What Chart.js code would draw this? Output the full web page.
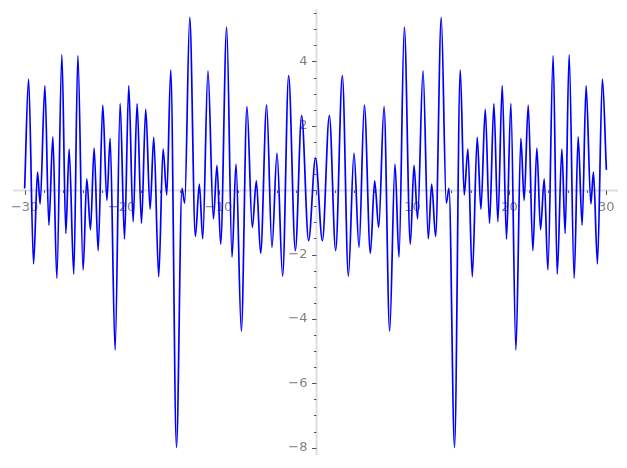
<!DOCTYPE html>
<html>
<head>
<meta charset="utf-8">
<title>plot</title>
<script src="https://cdn.jsdelivr.net/npm/chart.js@4.4.1/dist/chart.umd.min.js"></script>
<style>
  html, body { margin: 0; padding: 0; background: #fff; }
  canvas { display: block; }
</style>
</head>
<body>
<canvas id="plot" width="627" height="468"></canvas>
<script>
// --- DATA (local extrema) ---
const xValues = [
  -30.00, -29.59, -29.08, -28.67, -28.40, -27.91, -27.50, -27.09, -26.68, -26.16,
  -25.75, -25.41, -24.93, -24.51, -23.97, -23.59, -23.21, -22.83, -22.42, -21.94,
  -21.52, -21.18, -20.67, -20.15, -19.70, -19.26, -18.81, -18.40, -17.95, -17.51,
  -17.06, -16.68, -16.17, -15.72, -15.34, -14.93, -14.34, -13.77, -13.49, -12.97,
  -12.39, -11.98, -11.63, -11.09, -10.53, -10.16, -9.78, -9.16, -8.61, -8.20,
  -7.65, -7.07, -6.52, -6.10, -5.66, -5.04, -4.49, -3.97, -3.39, -2.77,
  -2.08, -1.43, -0.71, 0.00,
  0.71, 1.43, 2.08, 2.77, 3.39, 3.97, 4.49, 5.04, 5.66, 6.10,
  6.52, 7.07, 7.65, 8.20, 8.61, 9.16, 9.78, 10.16, 10.53, 11.09,
  11.63, 11.98, 12.39, 12.97, 13.49, 13.77, 14.34, 14.93, 15.34, 15.72,
  16.17, 16.68, 17.06, 17.51, 17.95, 18.40, 18.81, 19.26, 19.70, 20.15,
  20.67, 21.18, 21.52, 21.94, 22.42, 22.83, 23.21, 23.59, 23.97, 24.51,
  24.93, 25.41, 25.75, 26.16, 26.68, 27.09, 27.50, 27.91, 28.40, 28.67,
  29.08, 29.59, 30.00
];
const yValues = [
  0.05, 3.45, -2.29, 0.56, -0.43, 3.24, -1.09, 1.66, -2.74, 4.21,
  -1.34, 1.28, -2.61, 4.18, -2.48, 0.35, -1.23, 1.31, -1.88, 2.64,
  -0.32, 1.61, -4.97, 2.69, -1.52, 3.24, -0.98, 2.69, -1.03, 2.52,
  -0.59, 1.64, -2.69, 1.28, -0.15, 3.74, -8.00, 0.06, -0.40, 5.37,
  -1.44, 0.19, -1.51, 3.71, -0.89, 0.77, -1.68, 5.07, -2.08, 0.81,
  -4.38, 2.60, -1.16, 0.29, -1.96, 2.64, -1.78, 1.15, -2.67, 3.56,
  -1.88, 2.32, -1.57, 1.00,
  -1.57, 2.32, -1.88, 3.56, -2.67, 1.15, -1.78, 2.64, -1.96, 0.29,
  -1.16, 2.60, -4.38, 0.81, -2.08, 5.07, -1.68, 0.77, -0.89, 3.71,
  -1.51, 0.19, -1.44, 5.37, -0.40, 0.06, -8.00, 3.74, -0.15, 1.28,
  -2.69, 1.64, -0.59, 2.52, -1.03, 2.69, -0.98, 3.24, -1.52, 2.69,
  -4.97, 1.61, -0.32, 2.64, -1.88, 1.31, -1.23, 0.35, -2.48, 4.18,
  -2.61, 1.28, -1.34, 4.21, -2.74, 1.66, -1.09, 3.24, -0.43, 0.56,
  -2.29, 3.45, 0.63
];

// --- TICKS ---
const xMajorTicks = [-30, -20, -10, 0, 10, 20, 30];
const xTickLabels = ['\u221230', '\u221220', '\u221210', '', '10', '20', '30'];
const yMajorTicks = [-8, -6, -4, -2, 0, 2, 4];
const yTickLabels = ['\u22128', '\u22126', '\u22124', '\u22122', '', '2', '4'];

// --- AXES THROUGH THE ORIGIN (drawn with the chart's own scales) ---
const originAxes = {
    id: 'originAxes',
    beforeDatasetsDraw(chart) {
        const ctx = chart.ctx;
        const area = chart.chartArea;
        const xs = chart.scales.x, ys = chart.scales.y;
        const x0 = Math.round(xs.getPixelForValue(0)) + 0.5;
        const y0 = Math.round(ys.getPixelForValue(0)) + 0.5;
        ctx.save();

        // axis lines
        ctx.strokeStyle = '#dedede';
        ctx.lineWidth = 2;
        ctx.beginPath();
        ctx.moveTo(area.left, y0); ctx.lineTo(area.right, y0);
        ctx.moveTo(x0, area.top); ctx.lineTo(x0, area.bottom);
        ctx.stroke();

        // tick marks
        ctx.strokeStyle = '#555';
        ctx.lineWidth = 1;
        ctx.beginPath();
        for (let v = -30; v <= 30; v += 2) {
            const px = Math.round(xs.getPixelForValue(v)) + 0.5;
            const len = v % 10 === 0 ? 4.5 : 2.5;
            ctx.moveTo(px, y0); ctx.lineTo(px, y0 + len);
        }
        for (let v = -8; v <= 5.5; v += 0.5) {
            const py = Math.round(ys.getPixelForValue(v)) + 0.5;
            const len = v % 2 === 0 ? 4.5 : 2.5;
            ctx.moveTo(x0, py); ctx.lineTo(x0 - len, py);
        }
        ctx.stroke();

        // tick labels
        ctx.fillStyle = '#808080';
        ctx.font = '13px "DejaVu Sans"';
        ctx.textAlign = 'center';
        ctx.textBaseline = 'middle';
        xMajorTicks.forEach((v, i) => {
            ctx.fillText(xTickLabels[i], xs.getPixelForValue(v), y0 + 17);
        });
        ctx.textAlign = 'right';
        yMajorTicks.forEach((v, i) => {
            ctx.fillText(yTickLabels[i], x0 - 9, ys.getPixelForValue(v));
        });
        ctx.restore();
    }
};

// --- CHART ---
const plotCanvas = document.getElementById('plot');
const points = xValues.map((x, i) => ({ x: x, y: yValues[i] }));

new Chart(plotCanvas, {
    type: 'line',
    data: {
        datasets: [{
            data: points,
            borderColor: '#0000ff',
            borderWidth: 1.7,
            pointRadius: 0,
            fill: false,
            cubicInterpolationMode: 'monotone'
        }]
    },
    options: {
        responsive: false,
        animation: false,
        devicePixelRatio: 1,
        layout: { padding: { left: 13, right: 9, top: 9, bottom: 13 } },
        scales: {
            x: { type: 'linear', min: -31.2, max: 31.2, display: false },
            y: { type: 'linear', min: -8.23, max: 5.63, display: false }
        },
        plugins: { legend: { display: false }, tooltip: { enabled: false } }
    },
    plugins: [originAxes]
});
</script>
</body>
</html>
